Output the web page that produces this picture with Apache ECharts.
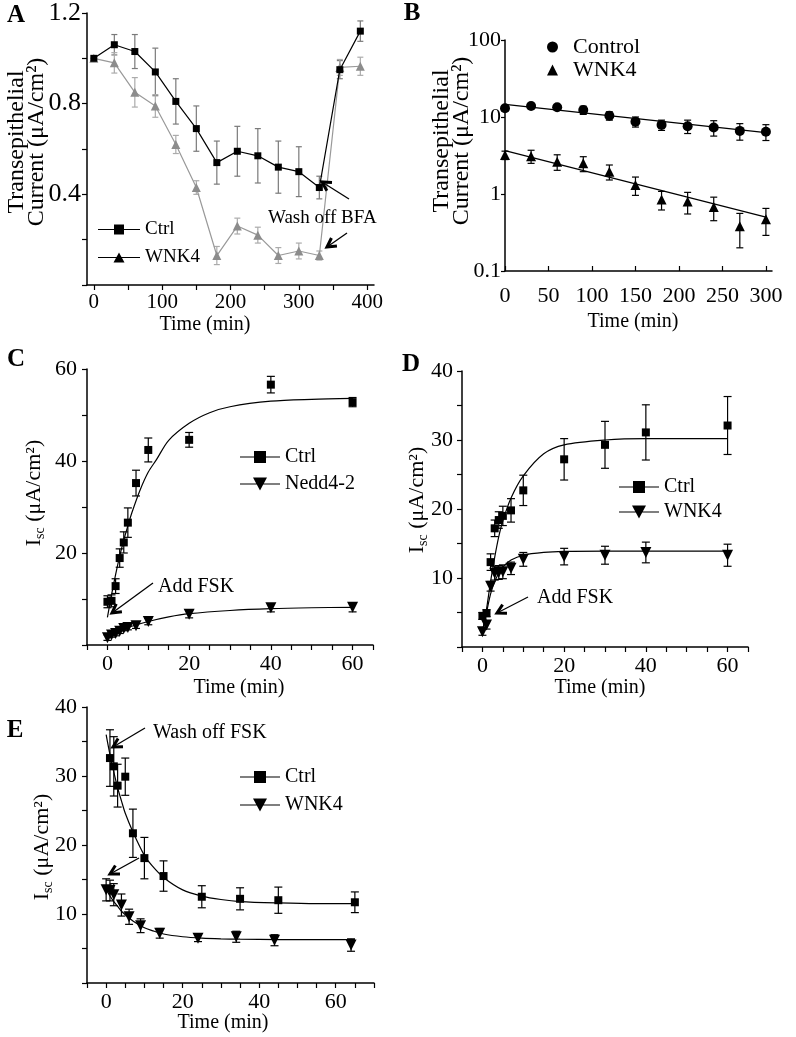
<!DOCTYPE html>
<html>
<head>
<meta charset="utf-8">
<script src="https://cdn.jsdelivr.net/npm/echarts@6/dist/echarts.min.js"></script>
<style>
  html, body { margin: 0; padding: 0; background: #fff; }
  #main { width: 796px; height: 1037px; }
</style>
</head>
<body>
<div id="main"></div>
<script>
var FONT = 'Liberation Serif';

// A: BFA time course
var timeA = [0, 30, 60, 90, 120, 150, 180, 210, 240, 270, 300, 330, 360, 390];
var ctrlA = [1.00, 1.06, 1.03, 0.94, 0.81, 0.69, 0.54, 0.59, 0.57, 0.52, 0.50, 0.43, 0.95, 1.12];
var ctrlAErr = [0, 0.045, 0.075, 0.105, 0.10, 0.10, 0.095, 0.11, 0.12, 0.115, 0.11, 0.05, 0.04, 0.045];
var wnkA = [1.00, 0.98, 0.85, 0.79, 0.62, 0.43, 0.13, 0.26, 0.22, 0.13, 0.15, 0.13, 0.96, 0.965];
var wnkAErr = [0, 0.045, 0.065, 0.05, 0.04, 0.03, 0.04, 0.035, 0.035, 0.035, 0.035, 0.02, 0.035, 0.04];

// B: log plot
var timeB = [0, 30, 60, 90, 120, 150, 180, 210, 240, 270, 300];
var ctrlB = [13.0, 13.9, 13.4, 12.3, 10.4, 8.7, 7.9, 7.6, 7.3, 6.6, 6.45];
var ctrlBErr = [1.0, 0.8, 0.8, 1.5, 1.3, 1.3, 1.2, 1.5, 1.65, 1.6, 1.5];
var wnkB = [3.2, 3.1, 2.63, 2.5, 1.95, 1.31, 0.85, 0.80, 0.68, 0.38, 0.47];
var wnkBErr = [0.4, 0.6, 0.6, 0.55, 0.43, 0.35, 0.23, 0.25, 0.23, 0.18, 0.18];
var fitTimeB = [0, 300];
var ctrlFitB = [14.6, 6.27];
var wnkFitB = [3.66, 0.5];

// C: Nedd4-2
var timeC = [0, 1, 2, 3, 4, 5, 7, 10, 20, 40, 60];
var ctrlC = [9.4, 9.6, 12.8, 18.9, 22.3, 26.6, 35.2, 42.4, 44.6, 56.6, 52.8];
var ctrlCErr = [1.3, 1.3, 1.6, 2.0, 2.3, 3.2, 2.8, 2.6, 1.6, 1.8, 1.0];
var nedC = [1.6, 2.2, 2.5, 3.0, 3.6, 3.8, 4.2, 5.1, 6.7, 8.1, 8.2];
var nedCErr = [0.6, 0.5, 0.5, 0.5, 0.5, 0.5, 0.6, 0.7, 0.8, 0.9, 1.0];
var fitTimeC = [0, 1, 2, 3, 4, 5, 6, 8, 10, 12, 15, 20, 25, 30, 40, 50, 60];
var ctrlFitC = [6.0, 10.9, 15.3, 19.3, 22.8, 25.9, 28.8, 33.7, 37.6, 40.3, 44.5, 48.2, 50.5, 51.8, 53.0, 53.4, 53.6];
var nedFitTimeC = [0, 2, 5, 10, 15, 20, 30, 40, 50, 60];
var nedFitC = [1.8, 2.7, 3.8, 5.1, 6.1, 6.8, 7.5, 7.9, 8.1, 8.2];

// D: WNK4, add FSK
var timeD = [0, 1, 2, 3, 4, 5, 7, 10, 20, 30, 40, 60];
var ctrlD = [4.5, 4.9, 12.3, 17.2, 18.4, 19.0, 19.8, 22.7, 27.2, 29.3, 31.1, 32.1];
var ctrlDErr = [0.5, 0.5, 1.2, 1.2, 1.2, 1.4, 1.7, 2.2, 3.0, 3.4, 4.0, 4.2];
var wnkD = [2.2, 3.2, 8.8, 10.7, 10.8, 10.9, 11.4, 12.7, 13.1, 13.3, 13.7, 13.3];
var wnkDErr = [0.5, 0.6, 0.7, 1.0, 1.0, 1.0, 0.9, 1.0, 1.2, 1.3, 1.5, 1.6];
var fitTimeD = [0, 1, 2, 3, 4, 5, 7, 10, 15, 20, 30, 40, 60];
var ctrlFitD = [2.2, 5.5, 9.5, 13.0, 16.0, 18.3, 21.6, 24.8, 28.0, 29.3, 30.0, 30.2, 30.2];
var wnkFitD = [2.2, 5.0, 7.7, 9.5, 10.7, 11.6, 12.6, 13.3, 13.7, 13.85, 13.9, 13.9, 13.9];

// E: wash off FSK
var timeCtrlE = [1, 2, 3, 5, 7, 10, 15, 25, 35, 45, 65];
var ctrlE = [32.6, 31.4, 28.6, 29.9, 21.7, 18.1, 15.5, 12.5, 12.2, 12.0, 11.7];
var ctrlEErr = [4.1, 4.3, 3.1, 2.7, 3.5, 3.0, 2.2, 1.6, 1.6, 1.9, 1.5];
var timeWnkE = [0, 1, 2, 4, 6, 9, 14, 24, 34, 44, 64];
var wnkE = [13.5, 13.4, 12.8, 11.3, 9.6, 8.3, 7.2, 6.5, 6.7, 6.2, 5.5];
var wnkEErr = [1.6, 1.5, 1.6, 1.6, 1.1, 1.0, 0.7, 0.5, 0.8, 0.8, 0.9];
var fitTimeE = [0, 1, 2, 3, 4, 5, 7, 10, 12, 15, 20, 25, 30, 35, 45, 55, 65];
var ctrlFitE = [36.0, 33.1, 30.6, 28.3, 26.4, 24.6, 21.9, 18.5, 17.0, 15.3, 13.5, 12.6, 12.1, 11.8, 11.6, 11.5, 11.5];
var wnkFitE = [13.6, 12.6, 11.8, 11.1, 10.4, 9.9, 9.0, 8.0, 7.6, 7.1, 6.7, 6.5, 6.4, 6.35, 6.3, 6.3, 6.3];

function pts(t, v) {
  return t.map(function (x, i) { return [x, v[i]]; });
}
function bars(t, v, e) {
  return t.map(function (x, i) { return [x, v[i] - e[i], v[i] + e[i]]; });
}

function errorBar(color, cap) {
  return function (params, api) {
    var hi = api.coord([api.value(0), api.value(2)]);
    var lo = api.coord([api.value(0), api.value(1)]);
    var st = { stroke: color, lineWidth: 1.2 };
    return {
      type: 'group',
      children: [
        { type: 'line', shape: { x1: hi[0], y1: hi[1], x2: lo[0], y2: lo[1] }, style: st },
        { type: 'line', shape: { x1: hi[0] - cap, y1: hi[1], x2: hi[0] + cap, y2: hi[1] }, style: st },
        { type: 'line', shape: { x1: lo[0] - cap, y1: lo[1], x2: lo[0] + cap, y2: lo[1] }, style: st }
      ]
    };
  };
}

function errSeries(idx, data, color, cap) {
  return {
    type: 'custom', xAxisIndex: idx, yAxisIndex: idx, z: 2,
    renderItem: errorBar(color, cap), encode: { x: 0, y: [1, 2] },
    data: data, silent: true
  };
}

function xAx(idx, min, max, ticks, labels, size, margin, inside) {
  return {
    type: 'value', gridIndex: idx, min: min, max: max,
    axisLine: { onZero: false, lineStyle: { color: '#000', width: 1.5 } },
    axisTick: { show: true, inside: !!inside, length: 5, customValues: ticks, lineStyle: { color: '#000', width: 1.2 } },
    axisLabel: { customValues: labels, color: '#000', fontFamily: FONT, fontSize: size, margin: margin },
    splitLine: { show: false }
  };
}
function yAx(idx, min, max, ticks, labels, size, margin) {
  return xAx(idx, min, max, ticks, labels, size, margin, false);
}

var SQ_A = 'path://M0,4.4H42V5.6H0Z M16,0H26V10H16Z';
var TRI_A = 'path://M0,4.4H42V5.6H0Z M15.5,10L21,0L26.5,10Z';
var SQ = 'path://M0,5.9H40V7.1H0Z M14,0.5H26V12.5H14Z';
var DOWN = 'path://M0,5.9H40V7.1H0Z M13,0H27L20,13Z';

function lab(n) { return n.split('|')[1]; }
function legendAt(left, top, w, h, gap, size, items) {
  return {
    left: left, top: top, orient: 'vertical', padding: 0,
    itemWidth: w, itemHeight: h, itemGap: gap, selectedMode: false,
    formatter: lab, data: items,
    textStyle: { fontFamily: FONT, fontSize: size, color: '#000' }
  };
}

var main = echarts.init(document.getElementById('main'));

var option = {
  animation: false,
  backgroundColor: '#fff',
  grid: [
    { left: 87, top: 8, width: 287, height: 277 },
    { left: 505, top: 40, width: 267, height: 231 },
    { left: 87, top: 369, width: 286, height: 276 },
    { left: 462, top: 371, width: 286, height: 276 },
    { left: 87, top: 707, width: 287, height: 276 }
  ],
  xAxis: [
    xAx(0, -10, 410, [0, 50, 100, 150, 200, 250, 300, 350, 400], [0, 100, 200, 300, 400], 21, 7),
    xAx(1, 0, 307, [0, 50, 100, 150, 200, 250, 300], [0, 50, 100, 150, 200, 250, 300], 22, 14, true),
    xAx(2, -5, 65, [-5, 0, 5, 10, 15, 20, 25, 30, 35, 40, 45, 50, 55, 60, 65], [0, 20, 40, 60], 22, 8),
    xAx(3, -5, 65, [-5, 0, 5, 10, 15, 20, 25, 30, 35, 40, 45, 50, 55, 60, 65], [0, 20, 40, 60], 22, 8),
    xAx(4, -5, 70, [-5, 0, 5, 10, 15, 20, 25, 30, 35, 40, 45, 50, 55, 60, 65, 70], [0, 20, 40, 60], 22, 8)
  ],
  yAxis: [
    yAx(0, 0, 1.2, [0, 0.2, 0.4, 0.6, 0.8, 1.0, 1.2], [0.4, 0.8, 1.2], 26, 6),
    {
      type: 'log', logBase: 10, gridIndex: 1, min: 0.1, max: 100,
      axisLine: { onZero: false, lineStyle: { color: '#000', width: 1.5 } },
      axisTick: { show: true, length: 4, lineStyle: { color: '#000', width: 1.2 } },
      axisLabel: {
        color: '#000', fontFamily: FONT, fontSize: 22, margin: 4,
        formatter: function (v) { return String(+Number(v).toPrecision(3)); }
      },
      minorTick: { show: false },
      splitLine: { show: false }
    },
    yAx(2, 0, 60, [0, 10, 20, 30, 40, 50, 60], [20, 40, 60], 22, 10),
    yAx(3, 0, 40, [0, 5, 10, 15, 20, 25, 30, 35, 40], [10, 20, 30, 40], 22, 9),
    yAx(4, 0, 40, [0, 5, 10, 15, 20, 25, 30, 35, 40], [10, 20, 30, 40], 22, 10)
  ],
  legend: [
    legendAt(98, 220, 42, 10, 9, 19, [
      { name: 'A|Ctrl', icon: SQ_A, itemStyle: { color: '#000' } },
      { name: 'A|WNK4', icon: TRI_A, itemStyle: { color: '#000' } }
    ]),
    (function () {
      var l = legendAt(547, 36, 11, 11, 1, 22, [
        { name: 'B|Control', icon: 'circle' },
        { name: 'B|WNK4', icon: 'triangle' }
      ]);
      l.textStyle.padding = [0, 0, 0, 10];
      return l;
    })(),
    legendAt(240, 447, 40, 13, 7, 20, [
      { name: 'C|Ctrl', icon: SQ }, { name: 'C|Nedd4-2', icon: DOWN }
    ]),
    legendAt(619, 477, 40, 13, 5, 20, [
      { name: 'D|Ctrl', icon: SQ }, { name: 'D|WNK4', icon: DOWN }
    ]),
    legendAt(240, 767, 40, 13, 8, 20, [
      { name: 'E|Ctrl', icon: SQ }, { name: 'E|WNK4', icon: DOWN }
    ])
  ],
  series: [
    // A
    errSeries(0, bars(timeA, ctrlA, ctrlAErr), '#7a7a7a', 3),
    errSeries(0, bars(timeA, wnkA, wnkAErr), '#ababab', 3),
    {
      name: 'A|WNK4', type: 'line', xAxisIndex: 0, yAxisIndex: 0, z: 3,
      data: pts(timeA, wnkA), symbol: 'triangle', symbolSize: 9, showAllSymbol: true,
      itemStyle: { color: '#8c8c8c' }, lineStyle: { color: '#999', width: 1.2 }
    },
    {
      name: 'A|Ctrl', type: 'line', xAxisIndex: 0, yAxisIndex: 0, z: 4,
      data: pts(timeA, ctrlA), symbol: 'rect', symbolSize: 7, showAllSymbol: true,
      itemStyle: { color: '#000' }, lineStyle: { color: '#000', width: 1.2 }
    },
    // B
    errSeries(1, bars(timeB, ctrlB, ctrlBErr), '#000', 3.5),
    errSeries(1, bars(timeB, wnkB, wnkBErr), '#000', 3.5),
    {
      type: 'line', xAxisIndex: 1, yAxisIndex: 1, z: 3, showSymbol: false, silent: true,
      data: pts(fitTimeB, ctrlFitB), lineStyle: { color: '#000', width: 1.2 }
    },
    {
      type: 'line', xAxisIndex: 1, yAxisIndex: 1, z: 3, showSymbol: false, silent: true,
      data: pts(fitTimeB, wnkFitB), lineStyle: { color: '#000', width: 1.2 }
    },
    {
      name: 'B|Control', type: 'scatter', xAxisIndex: 1, yAxisIndex: 1, z: 4,
      data: pts(timeB, ctrlB), symbol: 'circle', symbolSize: 10, itemStyle: { color: '#000', opacity: 1 }
    },
    {
      name: 'B|WNK4', type: 'scatter', xAxisIndex: 1, yAxisIndex: 1, z: 4,
      data: pts(timeB, wnkB), symbol: 'triangle', symbolSize: 10, itemStyle: { color: '#000', opacity: 1 }
    },
    // C
    errSeries(2, bars(timeC, ctrlC, ctrlCErr), '#000', 4),
    errSeries(2, bars(timeC, nedC, nedCErr), '#000', 4),
    {
      type: 'line', xAxisIndex: 2, yAxisIndex: 2, z: 3, showSymbol: false, smooth: 0.3, silent: true,
      data: pts(fitTimeC, ctrlFitC), lineStyle: { color: '#000', width: 1.2 }
    },
    {
      type: 'line', xAxisIndex: 2, yAxisIndex: 2, z: 3, showSymbol: false, smooth: 0.3, silent: true,
      data: pts(nedFitTimeC, nedFitC), lineStyle: { color: '#000', width: 1.2 }
    },
    {
      name: 'C|Ctrl', type: 'scatter', xAxisIndex: 2, yAxisIndex: 2, z: 4,
      data: pts(timeC, ctrlC), symbol: 'rect', symbolSize: 8, itemStyle: { color: '#000', opacity: 1 }
    },
    {
      name: 'C|Nedd4-2', type: 'scatter', xAxisIndex: 2, yAxisIndex: 2, z: 4,
      data: pts(timeC, nedC), symbol: 'triangle', symbolRotate: 180, symbolSize: 11,
      itemStyle: { color: '#000', opacity: 1 }
    },
    // D
    errSeries(3, bars(timeD, ctrlD, ctrlDErr), '#000', 4),
    errSeries(3, bars(timeD, wnkD, wnkDErr), '#000', 4),
    {
      type: 'line', xAxisIndex: 3, yAxisIndex: 3, z: 3, showSymbol: false, smooth: 0.3, silent: true,
      data: pts(fitTimeD, ctrlFitD), lineStyle: { color: '#000', width: 1.2 }
    },
    {
      type: 'line', xAxisIndex: 3, yAxisIndex: 3, z: 3, showSymbol: false, smooth: 0.3, silent: true,
      data: pts(fitTimeD, wnkFitD), lineStyle: { color: '#000', width: 1.2 }
    },
    {
      name: 'D|Ctrl', type: 'scatter', xAxisIndex: 3, yAxisIndex: 3, z: 4,
      data: pts(timeD, ctrlD), symbol: 'rect', symbolSize: 8, itemStyle: { color: '#000', opacity: 1 }
    },
    {
      name: 'D|WNK4', type: 'scatter', xAxisIndex: 3, yAxisIndex: 3, z: 4,
      data: pts(timeD, wnkD), symbol: 'triangle', symbolRotate: 180, symbolSize: 11,
      itemStyle: { color: '#000', opacity: 1 }
    },
    // E
    errSeries(4, bars(timeCtrlE, ctrlE, ctrlEErr), '#000', 4),
    errSeries(4, bars(timeWnkE, wnkE, wnkEErr), '#000', 4),
    {
      type: 'line', xAxisIndex: 4, yAxisIndex: 4, z: 3, showSymbol: false, smooth: 0.3, silent: true,
      data: pts(fitTimeE, ctrlFitE), lineStyle: { color: '#000', width: 1.2 }
    },
    {
      type: 'line', xAxisIndex: 4, yAxisIndex: 4, z: 3, showSymbol: false, smooth: 0.3, silent: true,
      data: pts(fitTimeE, wnkFitE), lineStyle: { color: '#000', width: 1.2 }
    },
    {
      name: 'E|Ctrl', type: 'scatter', xAxisIndex: 4, yAxisIndex: 4, z: 4,
      data: pts(timeCtrlE, ctrlE), symbol: 'rect', symbolSize: 8, itemStyle: { color: '#000', opacity: 1 }
    },
    {
      name: 'E|WNK4', type: 'scatter', xAxisIndex: 4, yAxisIndex: 4, z: 4,
      data: pts(timeWnkE, wnkE), symbol: 'triangle', symbolRotate: 180, symbolSize: 11,
      itemStyle: { color: '#000', opacity: 1 }
    }
  ]
};

// text and arrows
function txt(x, y, s, size, opts) {
  var st = { text: s, fontFamily: FONT, fontSize: size, fill: '#000', align: 'center', verticalAlign: 'middle' };
  var el = { type: 'text', x: x, y: y, z: 10, style: st };
  if (opts) {
    if (opts.bold) st.fontWeight = 'bold';
    if (opts.left) st.align = 'left';
    if (opts.rot) el.rotation = Math.PI / 2;
    if (opts.lh) st.lineHeight = opts.lh;
    if (opts.rich) st.rich = opts.rich;
  }
  return el;
}
function arrow(x1, y1, x2, y2) {
  var ang = Math.atan2(y2 - y1, x2 - x1), L = 10, w = 0.5;
  var a1 = [x2 - L * Math.cos(ang - w), y2 - L * Math.sin(ang - w)];
  var a2 = [x2 - L * Math.cos(ang + w), y2 - L * Math.sin(ang + w)];
  return [
    { type: 'line', z: 10, shape: { x1: x1, y1: y1, x2: x2, y2: y2 }, style: { stroke: '#000', lineWidth: 1.3 } },
    { type: 'polyline', z: 10, shape: { points: [a1, [x2, y2], a2] }, style: { stroke: '#000', lineWidth: 3, fill: null } }
  ];
}
var subRich = {
  s: { fontFamily: FONT, fontSize: 14, lineHeight: 14, verticalAlign: 'bottom' }
};
var graphics = [
  txt(16, 16, 'A', 25, { bold: true }),
  txt(412, 14, 'B', 25, { bold: true }),
  txt(16, 360, 'C', 25, { bold: true }),
  txt(411, 365, 'D', 25, { bold: true }),
  txt(15, 731, 'E', 25, { bold: true }),
  txt(27, 142, 'Transepithelial\nCurrent (μA/cm²)', 24, { rot: true, lh: 20 }),
  txt(452, 141, 'Transepithelial\nCurrent (μA/cm²)', 24, { rot: true, lh: 20 }),
  txt(34, 493, 'I{s|sc} (μA/cm²)', 22, { rot: true, lh: 26, rich: subRich }),
  txt(417, 500, 'I{s|sc} (μA/cm²)', 22, { rot: true, lh: 26, rich: subRich }),
  txt(42, 847, 'I{s|sc} (μA/cm²)', 22, { rot: true, lh: 26, rich: subRich }),
  txt(205, 325, 'Time (min)', 20),
  txt(633, 322, 'Time (min)', 20),
  txt(239, 688, 'Time (min)', 20),
  txt(600, 688, 'Time (min)', 20),
  txt(223, 1023, 'Time (min)', 20),
  txt(268, 218, 'Wash off BFA', 19, { left: true }),
  txt(158, 587, 'Add FSK', 20, { left: true }),
  txt(537, 598, 'Add FSK', 20, { left: true }),
  txt(153, 733, 'Wash off FSK', 20, { left: true })
];
graphics = graphics
  .concat(arrow(349, 199, 322, 182))
  .concat(arrow(347, 233, 327, 247))
  .concat(arrow(153, 583, 112, 613))
  .concat(arrow(528, 597, 497, 613))
  .concat(arrow(145, 728, 113, 747))
  .concat(arrow(139, 858, 110, 874));
option.graphic = graphics;

main.setOption(option);
</script>
</body>
</html>
